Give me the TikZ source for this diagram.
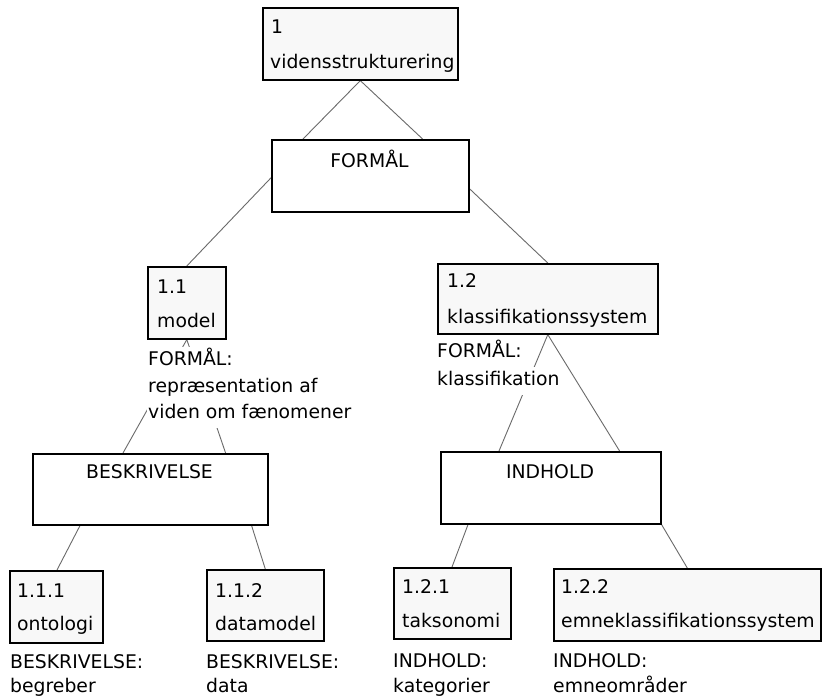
\documentclass[tikz,border=0pt]{standalone}
\usepackage{fontspec}
\setmainfont{DejaVu Sans}
\usetikzlibrary{backgrounds}
\definecolor{boxfill}{HTML}{F8F8F8}
\definecolor{connc}{HTML}{6A6A6A}
\begin{document}
\begin{tikzpicture}[x=1pt,y=-1pt,
  every node/.style={font=\fontsize{18.8}{22}\selectfont},
  numbox/.style={draw=black,line width=1.6pt,fill=boxfill,anchor=north west,inner sep=0pt},
  catbox/.style={draw=black,line width=1.6pt,fill=white,anchor=north west,inner sep=0pt},
  txt/.style={anchor=base west,inner sep=0pt},
  ctxt/.style={anchor=base,inner sep=0pt},
  lbl/.style={anchor=base west,inner xsep=1pt,inner ysep=3pt,text height=15pt,text depth=6.5pt,fill=white},
  conn/.style={draw=connc,line width=0.9pt}]
\useasboundingbox (0,0) rectangle (822,697);
\begin{scope}[on background layer]
\fill[white] (0,0) rectangle (822,697);
\end{scope}
% boxes
\node[numbox,minimum width=195pt,minimum height=72pt] (b1) at (262,7) {};
\node[catbox,minimum width=197pt,minimum height=72pt] (f) at (271,139) {};
\node[numbox,minimum width=78pt,minimum height=72pt] (m) at (147,266) {};
\node[numbox,minimum width=220pt,minimum height=70pt] (p12) at (437,263) {};
\node[catbox,minimum width=235pt,minimum height=71pt] (bes) at (32,453) {};
\node[catbox,minimum width=220pt,minimum height=72pt] (ind) at (440,451) {};
\node[numbox,minimum width=93pt,minimum height=72pt] (n111) at (9,570) {};
\node[numbox,minimum width=117pt,minimum height=71pt] (n112) at (206,569) {};
\node[numbox,minimum width=117pt,minimum height=71pt] (n121) at (393,567) {};
\node[numbox,minimum width=267pt,minimum height=72pt] (n122) at (553,568) {};
% box texts
\node[txt] (b1a) at (271,33) {1};
\node[txt] (b1b) at (270,68) {vidensstrukturering};
\node[ctxt] (fa) at (369.5,167) {FORMÅL};
\node[txt] (ma) at (157,293) {1.1};
\node[txt] (mb) at (157,327) {model};
\node[txt] (pa) at (447,287) {1.2};
\node[txt] (pb) at (447,323) {klassifikationssystem};
\node[ctxt] (besa) at (149.5,478) {BESKRIVELSE};
\node[ctxt] (inda) at (550,478) {INDHOLD};
\node[txt] (n111a) at (17,597) {1.1.1};
\node[txt] (n111b) at (17,630) {ontologi};
\node[txt] (n112a) at (215,597) {1.1.2};
\node[txt] (n112b) at (215,630) {datamodel};
\node[txt] (n121a) at (402,593) {1.2.1};
\node[txt] (n121b) at (402,627) {taksonomi};
\node[txt] (n122a) at (561,593) {1.2.2};
\node[txt] (n122b) at (561,627) {emneklassifikationssystem};
% labels below boxes
\node[lbl] (ml1) at (147,365) {FORMÅL:};
\node[lbl] (ml2) at (147,392) {repræsentation af};
\node[lbl] (ml3) at (147,418) {viden om fænomener};
\node[lbl] (pl1) at (436,357) {FORMÅL:};
\node[lbl] (pl2) at (436,385) {klassifikation};
\node[lbl] (l111a) at (9,668) {BESKRIVELSE:};
\node[lbl] (l111b) at (9,692) {begreber};
\node[lbl] (l112a) at (205,668) {BESKRIVELSE:};
\node[lbl] (l112b) at (205,692) {data};
\node[lbl] (l121a) at (392,667) {INDHOLD:};
\node[lbl] (l121b) at (392,692) {kategorier};
\node[lbl] (l122a) at (552,667) {INDHOLD:};
\node[lbl] (l122b) at (552,692) {emneområder};
% connectors
\begin{scope}[on background layer]
\draw[conn] (b1.south) -- ([xshift=32pt]f.north west);
\draw[conn] (b1.south) -- ([xshift=-47pt]f.north east);
\draw[conn] ([yshift=-2pt]f.west) -- (m.north);
\draw[conn] ([yshift=-13pt]f.east) -- (p12.north);
\draw[conn] (m.south) -- ([xshift=91pt]bes.north west);
\draw[conn] (m.south) -- ([xshift=-43pt]bes.north east);
\draw[conn] (p12.south) -- ([xshift=59pt]ind.north west);
\draw[conn] (p12.south) -- ([xshift=-42pt]ind.north east);
\draw[conn] ([xshift=48pt]bes.south west) -- ([xshift=48pt]n111.north west);
\draw[conn] ([xshift=-17pt]bes.south east) -- (n112.north);
\draw[conn] ([xshift=28pt]ind.south west) -- ([xshift=59pt]n121.north west);
\draw[conn] (ind.south east) -- (n122.north);
\end{scope}
\end{tikzpicture}
\end{document}
